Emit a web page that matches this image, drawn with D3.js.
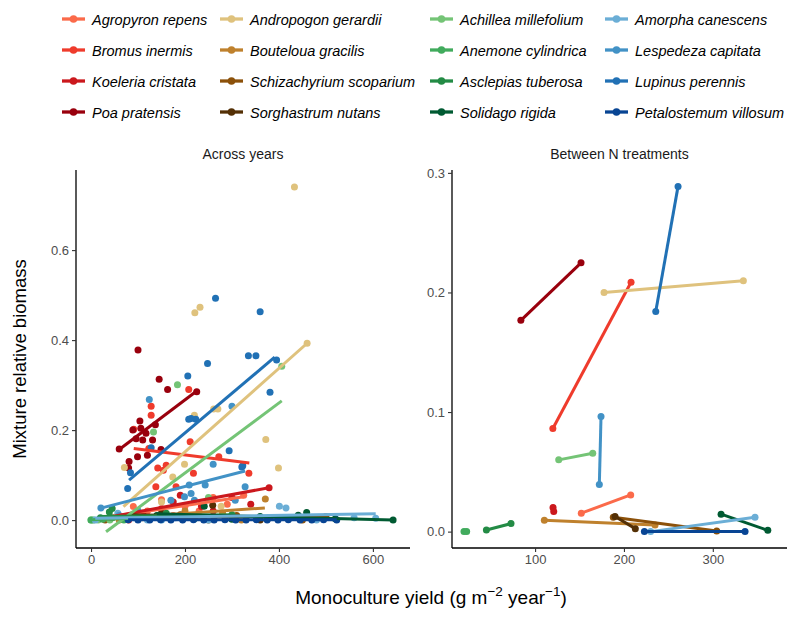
<!DOCTYPE html>
<html>
<head>
<meta charset="utf-8">
<script src="https://cdn.jsdelivr.net/npm/d3@7"></script>
<style>
  body { margin: 0; background: #fff; }
  svg text { font-family: "Liberation Sans", Arial, sans-serif; }
</style>
</head>
<body>
<svg id="chart" width="800" height="620"></svg>
<script>
// ---------------- DATA ----------------
const species = [
  "Agropyron repens", "Bromus inermis", "Koeleria cristata", "Poa pratensis",
  "Andropogon gerardii", "Bouteloua gracilis", "Schizachyrium scoparium", "Sorghastrum nutans",
  "Achillea millefolium", "Anemone cylindrica", "Asclepias tuberosa", "Solidago rigida",
  "Amorpha canescens", "Lespedeza capitata", "Lupinus perennis", "Petalostemum villosum"
];
const palette = [
  "#fb6a4a", "#ef3b2c", "#cb181d", "#99000d",
  "#dfc27d", "#bf812d", "#8c510a", "#543005",
  "#74c476", "#41ab5d", "#238b45", "#005a32",
  "#6baed6", "#4292c6", "#2171b5", "#084594"
];

// Across years: [monoculture yield, mixture relative biomass]
const agropyronYears = [[45,0.005],[90,0.03],[120,0.02],[150,0.045],[175,0.01],[200,0.03],[230,0.02],[260,0.05],[290,0.035],[325,0.055]];
const bromusYears = [[91,0.202],[128,0.253],[128,0.233],[123,0.159],[142,0.116],[154,0.111],[160,0.122],[138,0.074],[181,0.074],[208,0.290],[211,0.174],[218,0.104],[272,0.141],[336,0.104]];
const koeleriaYears = [[40,0.005],[80,0.0],[110,0.015],[150,0.025],[175,0.04],[190,0.055],[200,0.01],[235,0.03],[260,0.02],[300,0.05],[340,0.035],[379,0.072]];
const poaYears = [[60,0.158],[81,0.130],[80,0.116],[89,0.200],[96,0.181],[99,0.141],[100,0.378],[104,0.220],[106,0.204],[110,0.178],[117,0.193],[120,0.144],[131,0.178],[137,0.212],[145,0.313],[149,0.157],[163,0.290],[225,0.285]];
const andropogonYears = [[71,0.117],[150,0.04],[174,0.096],[199,0.124],[220,0.233],[221,0.461],[232,0.473],[261,0.247],[270,0.247],[277,0.031],[372,0.179],[399,0.116],[433,0.740],[460,0.393]];
const boutelouaYears = [[60,0.0],[110,0.005],[150,0.01],[200,0.02],[240,0.005],[280,0.015],[320,0.0],[371,0.047]];
const schizachyriumYears = [[30,0.0],[120,0.005],[190,0.012],[250,0.0],[310,0.01],[380,0.005],[450,0.0],[500,0.008]];
const sorghastrumYears = [[80,0.005],[150,0.015],[200,0.01],[259,0.033],[300,0.005],[360,0.0],[420,0.005]];
const achilleaYears = [[0,0.0],[15,0.0],[40,0.0],[70,0.005],[100,0.02],[133,0.196],[184,0.301],[220,0.01],[250,0.05],[406,0.342]];
const anemoneYears = [[0,0.0],[5,0.0],[25,0.002],[45,0.005],[70,0.0],[90,0.008]];
const asclepiasYears = [[20,0.005],[39,0.018],[45,0.026],[100,0.002],[160,0.015],[220,0.003],[300,0.012]];
const solidagoYears = [[140,0.01],[200,0.005],[241,0.031],[300,0.002],[360,0.008],[441,0.011],[459,0.017],[520,0.003],[643,0.0]];
const amorphaYears = [[9,0.0],[57,0.015],[120,0.0],[180,0.005],[250,0.0],[330,0.003],[401,0.031],[415,0.027],[480,0.0],[560,0.005],[606,0.004]];
const lespedezaYears = [[21,0.027],[60,0.01],[100,0.02],[124,0.268],[150,0.0],[170,0.044],[199,0.052],[209,0.078],[213,0.059],[220,0.044],[243,0.078],[260,0.124],[300,0.253],[307,0.044],[328,0.074]];
const lupinusYears = [[78,0.070],[84,0.105],[128,0.161],[206,0.320],[208,0.224],[213,0.226],[223,0.224],[248,0.348],[265,0.493],[294,0.154],[321,0.118],[323,0.121],[335,0.365],[351,0.365],[360,0.463],[381,0.284],[395,0.356]];
const petalostemumYears = [[79,0.001],[100,0.0],[125,0.0],[148,0.001],[170,0.0],[195,0.0],[218,0.001],[240,0.0],[262,0.0],[285,0.001],[308,0.0],[330,0.0],[352,0.001],[375,0.0],[398,0.0],[420,0.001],[445,0.0],[470,0.0],[495,0.001],[523,0.0]];

const acrossYears = [agropyronYears, bromusYears, koeleriaYears, poaYears,
  andropogonYears, boutelouaYears, schizachyriumYears, sorghastrumYears,
  achilleaYears, anemoneYears, asclepiasYears, solidagoYears,
  amorphaYears, lespedezaYears, lupinusYears, petalostemumYears];

// Across-years fitted lines: start and end
const fitX0 = [45, 91, 40, 60, 69, 50, 30, 80, 32, 0, 20, 140, 9, 19, 81, 79];
const fitY0 = [0.008, 0.159, 0.007, 0.157, 0.030, 0.004, 0.003, 0.012, -0.026, 0.001, 0.008, 0.014, 0.004, 0.026, 0.089, 0.001];
const fitX1 = [325, 337, 379, 225, 460, 370, 500, 420, 406, 90, 300, 643, 606, 328, 391, 523];
const fitY1 = [0.052, 0.127, 0.072, 0.287, 0.393, 0.027, 0.010, 0.006, 0.265, 0.004, 0.012, 0.000, 0.014, 0.109, 0.362, 0.001];

// Between N treatments: two points per species
const nX0 = [152, 120, 120.2, 84, 177.6, 110.4, 188, 190, 126.6, 20, 45.2, 309.3, 230, 174.2, 235.8, 223];
const nY0 = [0.0154, 0.0863, 0.0201, 0.1767, 0.200, 0.0095, 0.012, 0.0126, 0.060, 0.0, 0.0014, 0.0146, 0.0, 0.0963, 0.184, 0.0];
const nX1 = [207.6, 208, 121, 151.7, 334.4, 235, 304.4, 212.8, 164.9, 23, 72.9, 361.9, 347.5, 172.3, 260.9, 336.3];
const nY1 = [0.0307, 0.2085, 0.0168, 0.2248, 0.2097, 0.0056, 0.0006, 0.0025, 0.0656, 0.0002, 0.0067, 0.0011, 0.012, 0.0394, 0.2887, 0.0];

const leftXTicks = [0, 200, 400, 600];
const leftYTicks = [0.0, 0.2, 0.4, 0.6];
const rightXTicks = [100, 200, 300];
const rightYTicks = [0.0, 0.1, 0.2, 0.3];

// ---------------- DRAW ----------------
const svg = d3.select("#chart");
const plotTop = 170, plotBottom = 548;
const panels = [
  { title: "Across years", x0: 76, x1: 410, xd: [-32, 679], yd: [-0.062, 0.778], xt: leftXTicks, yt: leftYTicks },
  { title: "Between N treatments", x0: 452, x1: 787, xd: [6.5, 383.5], yd: [-0.0137, 0.3024], xt: rightXTicks, yt: rightYTicks }
];

panels.forEach(p => {
  p.x = d3.scaleLinear().domain(p.xd).range([p.x0, p.x1]);
  p.y = d3.scaleLinear().domain(p.yd).range([plotBottom, plotTop]);
  const g = svg.append("g");

  const xa = g.append("g").attr("transform", `translate(0,${plotBottom})`)
    .call(d3.axisBottom(p.x).tickValues(p.xt).tickSizeOuter(0).tickSize(4).tickPadding(3));
  const ya = g.append("g").attr("transform", `translate(${p.x0},0)`)
    .call(d3.axisLeft(p.y).tickValues(p.yt).tickFormat(d3.format(".1f")).tickSizeOuter(0).tickSize(4).tickPadding(3));
  [xa, ya].forEach(a => {
    a.select(".domain").attr("stroke", "#000").attr("stroke-width", 1.3);
    a.selectAll(".tick line").attr("stroke", "#333").attr("stroke-width", 1.1);
    a.selectAll(".tick text").attr("fill", "#4d4d4d").style("font-size", "13px")
      .style("font-family", "'Liberation Sans', Arial, sans-serif");
  });
  xa.select(".domain").attr("d", `M${p.x0},0H${p.x1}`);
  ya.select(".domain").attr("d", `M0,${plotBottom}V${plotTop}`);

  g.append("text").attr("x", (p.x0 + p.x1) / 2).attr("y", 159)
    .attr("text-anchor", "middle").attr("fill", "#1a1a1a").style("font-size", "14px").text(p.title);
});

const L = panels[0], R = panels[1];
const plotL = svg.append("g");
acrossYears.forEach((pts, i) => {
  plotL.selectAll(null).data(pts).enter().append("circle")
    .attr("cx", d => L.x(d[0])).attr("cy", d => L.y(d[1])).attr("r", 3.5)
    .attr("fill", palette[i]);
});
species.forEach((s, i) => {
  plotL.append("line")
    .attr("x1", L.x(fitX0[i])).attr("y1", L.y(fitY0[i]))
    .attr("x2", L.x(fitX1[i])).attr("y2", L.y(fitY1[i]))
    .attr("stroke", palette[i]).attr("stroke-width", 3).attr("stroke-linecap", "butt");
});

const plotR = svg.append("g");
species.forEach((s, i) => {
  plotR.append("line")
    .attr("x1", R.x(nX0[i])).attr("y1", R.y(nY0[i]))
    .attr("x2", R.x(nX1[i])).attr("y2", R.y(nY1[i]))
    .attr("stroke", palette[i]).attr("stroke-width", 3);
  [[nX0[i], nY0[i]], [nX1[i], nY1[i]]].forEach(d => {
    plotR.append("circle").attr("cx", R.x(d[0])).attr("cy", R.y(d[1])).attr("r", 3.5).attr("fill", palette[i]);
  });
});

svg.append("text").attr("x", 431).attr("y", 604).attr("text-anchor", "middle")
  .attr("fill", "#000").style("font-size", "19px")
  .html('Monoculture yield (g m<tspan dy="-8" style="font-size:13.5px">\u22122</tspan><tspan dy="8"> year</tspan><tspan dy="-8" style="font-size:13.5px">\u22121</tspan><tspan dy="8">)</tspan>');
svg.append("text").attr("transform", "translate(26,359) rotate(-90)").attr("text-anchor", "middle")
  .attr("fill", "#000").style("font-size", "18.5px").text("Mixture relative biomass");

const colKeyX = [62, 220, 430, 605];
const rowY = [19, 50, 81, 112];
const leg = svg.append("g");
species.forEach((s, i) => {
  const c = Math.floor(i / 4), r = i % 4;
  const kx = colKeyX[c], ky = rowY[r];
  leg.append("line").attr("x1", kx).attr("x2", kx + 23).attr("y1", ky).attr("y2", ky)
    .attr("stroke", palette[i]).attr("stroke-width", 3.3);
  leg.append("circle").attr("cx", kx + 11.5).attr("cy", ky).attr("r", 3.8).attr("fill", palette[i]);
  leg.append("text").attr("x", kx + 30).attr("y", ky + 5.5).attr("fill", "#000")
    .style("font-size", "14.5px").style("font-style", "italic").text(s);
});
</script>
</body>
</html>
